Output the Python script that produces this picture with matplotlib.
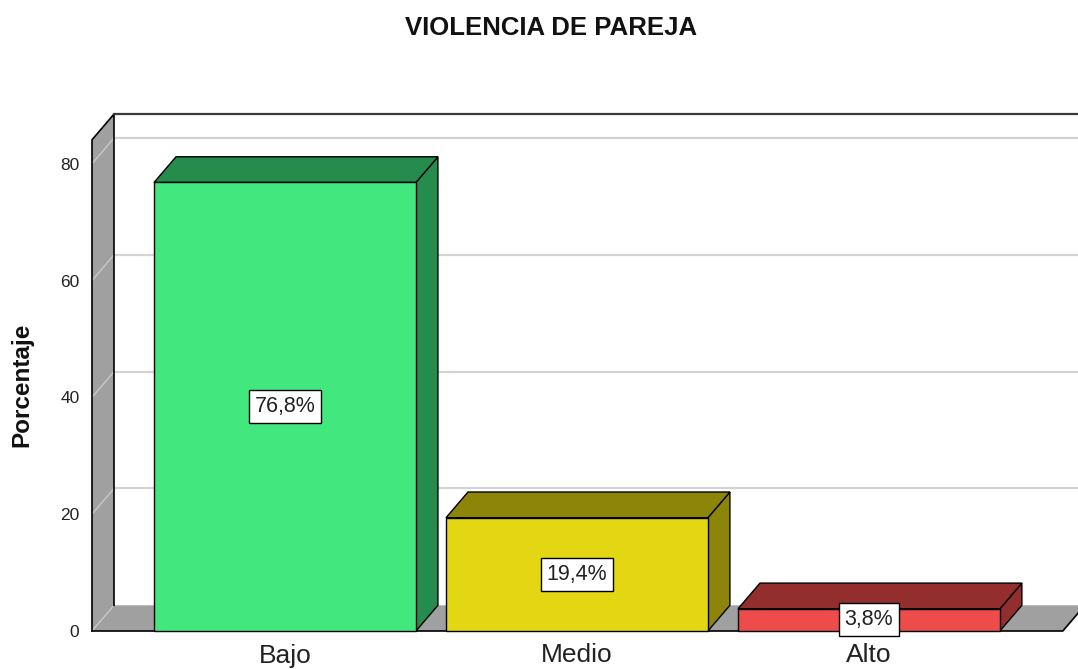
import matplotlib.pyplot as plt
from matplotlib.patches import Polygon, Rectangle

plt.rcParams['font.family'] = ['Liberation Sans', 'DejaVu Sans']

# datos
categorias = ["Bajo", "Medio", "Alto"]
porcentajes = [76.8, 19.4, 3.8]
etiquetas = ["76,8%", "19,4%", "3,8%"]
ticks_y = [0, 20, 40, 60, 80]

colores_frente = ["#42E87E", "#E2D712", "#EE4B4B"]
colores_oscuro = ["#268C4E", "#8C850A", "#922E2E"]

# geometria del efecto 3D (en unidades de datos)
DX = 0.0753     # profundidad horizontal
DY = 4.4        # profundidad vertical
ANCHO = 0.897
X0, X1 = -0.661, 2.716
YMAX = 89
H = 84.1        # alto de la pared
XF = 2.664      # fin del piso (frente)
GRIS = "#A0A0A0"

fig = plt.figure(figsize=(10.78, 6.69), dpi=100)
ax = fig.add_axes([92 / 1078, 38 / 669, 986 / 1078, 519.8 / 669])
ax.set_xlim(X0, X1)
ax.set_ylim(0, YMAX)
for s in ax.spines.values():
    s.set_visible(False)
ax.set_facecolor("none")

# --- pared izquierda y piso ---
ax.add_patch(Polygon([(X0, 0), (X0, H), (X0 + DX, H + DY), (X0 + DX, DY)],
                     fc=GRIS, ec="none", zorder=1, clip_on=False))
ax.add_patch(Polygon([(X0, 0), (X0 + DX, DY), (XF + DX, DY), (XF, 0)],
                     fc=GRIS, ec="none", zorder=1, clip_on=False))

# --- lineas de cuadricula ---
for v in ticks_y:
    ax.plot([X0, X0 + DX], [v, v + DY], color="#C8C8C8", lw=1, zorder=1.5, clip_on=False)
    if v > 0:
        ax.plot([X0 + DX, X1], [v + DY, v + DY], color="#D3D3D3", lw=1.6,
                zorder=1.5, clip_on=False)

# --- bordes ---
ax.plot([X0, X0, X0 + DX, X0 + DX], [0, H, H + DY, DY], color="black", lw=1.2,
        zorder=2, clip_on=False)
ax.plot([X0 + DX, X1], [H + DY, H + DY], color="#3A3A3A", lw=1.6, zorder=2, clip_on=False)
ax.plot([X0, XF, XF + DX], [0, 0, DY], color="black", lw=1.2, zorder=2, clip_on=False)

# --- barras ---
for i, (v, cf, co) in enumerate(zip(porcentajes, colores_frente, colores_oscuro)):
    a = i - ANCHO / 2
    b = i + ANCHO / 2
    ax.add_patch(Polygon([(b, 0), (b + DX, DY), (b + DX, v + DY), (b, v)],
                         fc=co, ec="black", lw=1, zorder=3, clip_on=False))
    ax.add_patch(Polygon([(a, v), (a + DX, v + DY), (b + DX, v + DY), (b, v)],
                         fc=co, ec="black", lw=1, zorder=3, clip_on=False))
    ax.add_patch(Rectangle((a, 0), ANCHO, v, fc=cf, ec="black", lw=1,
                           zorder=3.5, clip_on=False))
    ax.text(i, v / 2, etiquetas[i], ha="center", va="center", fontsize=15.5, zorder=5,
            color="#222222",
            bbox=dict(boxstyle="square,pad=0.28", fc="white", ec="black", lw=1))

ax.set_yticks(ticks_y)
ax.tick_params(axis="y", length=0, pad=9, labelsize=12.5, labelcolor="#222222")
ax.set_xticks(range(len(categorias)), categorias)
ax.tick_params(axis="x", length=0, pad=9, labelsize=19, labelcolor="#222222")

fig.text(551.5 / 1078, 1 - 28 / 669, "VIOLENCIA DE PAREJA", ha="center", va="center",
         fontsize=18.5, fontweight="bold", color="#111111")
fig.text(22 / 1078, 1 - 385 / 669, "Porcentaje", ha="center", va="center",
         rotation=90, fontsize=17.5, fontweight="bold", color="#111111")

fig.savefig("out.png", dpi=100)
